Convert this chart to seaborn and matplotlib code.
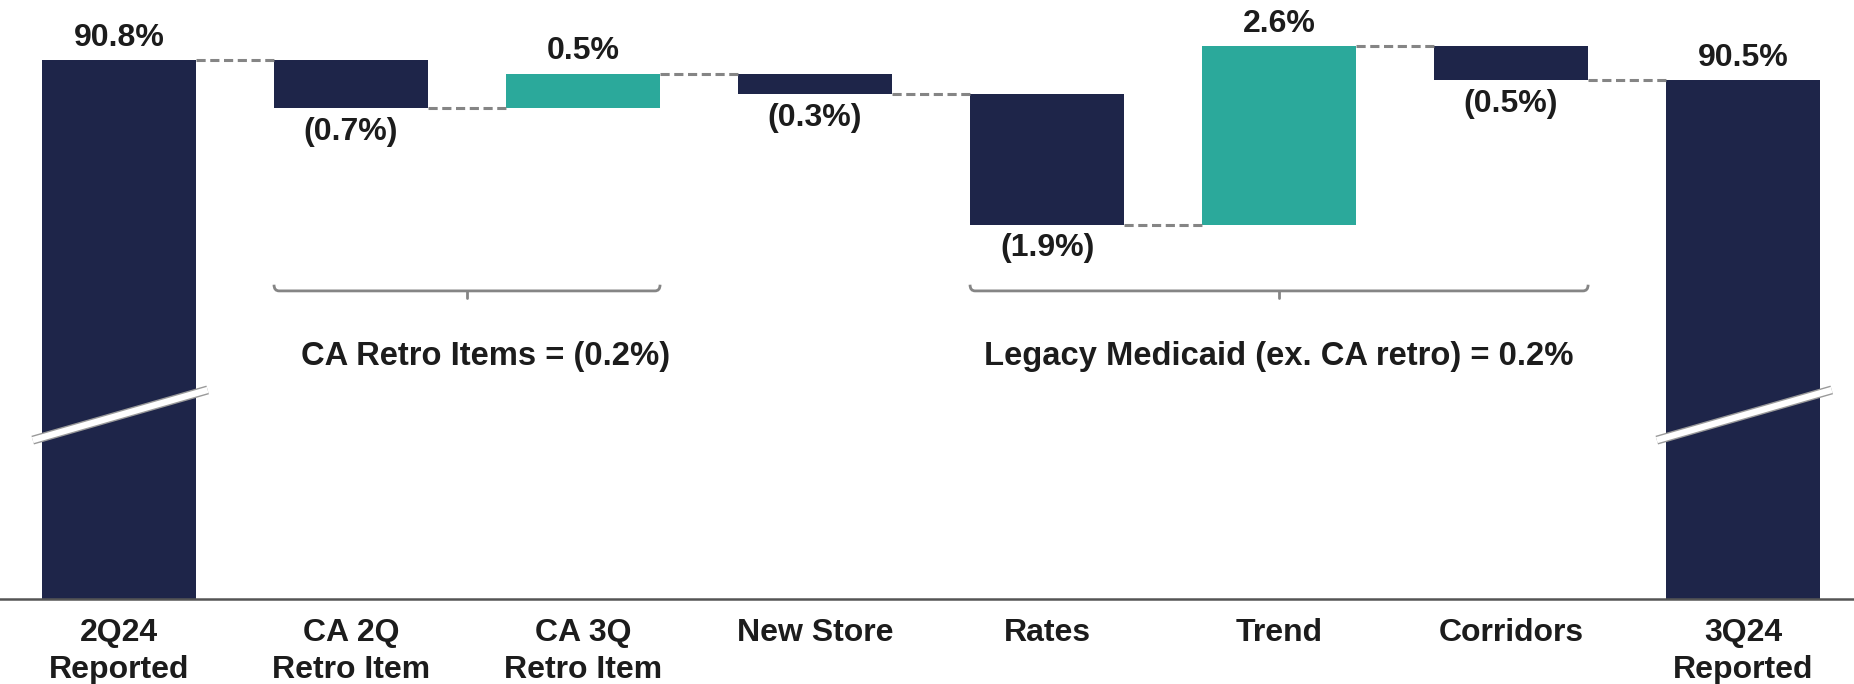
import numpy as np
import pandas as pd
import matplotlib
matplotlib.use("Agg")
import matplotlib.pyplot as plt
import seaborn as sns
from matplotlib.path import Path
from matplotlib.patches import PathPatch

# ---------------- data ----------------
categories = ["2Q24\nReported", "CA 2Q\nRetro Item", "CA 3Q\nRetro Item", "New Store",
              "Rates", "Trend", "Corridors", "3Q24\nReported"]
start_value = 90.8
changes = [-0.7, 0.5, -0.3, -1.9, 2.6, -0.5]
end_value = 90.5
value_labels = ["90.8%", "(0.7%)", "0.5%", "(0.3%)", "(1.9%)", "2.6%", "(0.5%)", "90.5%"]
bracket_spans = [(1, 2), (4, 6)]
bracket_texts = ["CA Retro Items = (0.2%)", "Legacy Medicaid (ex. CA retro) = 0.2%"]

# ---------------- styling ----------------
NAVY = "#1E2549"
TEAL = "#2BA99B"
GRAY = "#858585"
TEXT = "#1c1c1c"
BAR_W = 0.664

sns.set_theme(style="white")
plt.rcParams["font.family"] = ["Liberation Sans", "DejaVu Sans"]
plt.rcParams["font.weight"] = "bold"

# waterfall geometry
levels = [start_value]
for c in changes:
    levels.append(round(levels[-1] + c, 3))
tops = [start_value] + [max(levels[i], levels[i + 1]) for i in range(len(changes))] + [end_value]
bottoms = [0.0] + [min(levels[i], levels[i + 1]) for i in range(len(changes))] + [0.0]
heights = [t - b for t, b in zip(tops, bottoms)]
signs = [1] + [1 if c > 0 else -1 for c in changes] + [1]
is_total = [True] + [False] * len(changes) + [True]

df = pd.DataFrame({"category": categories, "height": heights})

fig = plt.figure(figsize=(18.54, 6.84), dpi=100)
ax = fig.add_axes([0, 85 / 684, 1, 599 / 684])

sns.barplot(data=df, x="category", y="height", bottom=np.array(bottoms), color=NAVY,
            saturation=1, width=BAR_W, errorbar=None, ax=ax, linewidth=0)

for patch, s, tot in zip(ax.patches, signs, is_total):
    patch.set_facecolor(NAVY if (tot or s < 0) else TEAL)
    patch.set_edgecolor("none")

ymin, ymax = 82.96, 91.67
ax.set_ylim(ymin, ymax)
ax.set_xlim(-0.513, 7.478)

# connectors
for i in range(len(levels)):
    ax.plot([i + BAR_W / 2, i + 1 - BAR_W / 2], [levels[i], levels[i]],
            color=GRAY, lw=2.2, dashes=(3, 1.5), zorder=1)

# value labels
for i, lab in enumerate(value_labels):
    if signs[i] > 0:
        ax.annotate(lab, (i, tops[i]), xytext=(0, 16), textcoords="offset points",
                    ha="center", va="center", fontsize=23, fontweight="bold", color=TEXT)
    else:
        ax.annotate(lab, (i, bottoms[i]), xytext=(0, -17), textcoords="offset points",
                    ha="center", va="center", fontsize=23, fontweight="bold", color=TEXT)

# axis break marks on total bars
for i in (0, len(categories) - 1):
    xs = [i - BAR_W / 2 - 0.04, i + BAR_W / 2 + 0.05]
    ys = [85.27, 86.0]
    ax.plot(xs, ys, color="#9a9a9a", lw=6.5, solid_capstyle="butt", zorder=5)
    ax.plot(xs, ys, color="white", lw=4.5, solid_capstyle="butt", zorder=6)

# brackets
by, hook, tick, dx = 87.44, 0.09, 0.11, 0.022
for (a, b), txt in zip(bracket_spans, bracket_texts):
    xl, xr = a - BAR_W / 2, b + BAR_W / 2
    xc = (xl + xr) / 2
    verts = [(xl, by + hook), (xl, by), (xl + dx, by), (xr - dx, by), (xr, by), (xr, by + hook)]
    codes = [Path.MOVETO, Path.CURVE3, Path.CURVE3, Path.LINETO, Path.CURVE3, Path.CURVE3]
    ax.add_patch(PathPatch(Path(verts, codes), fill=False, edgecolor=GRAY, lw=2))
    ax.plot([xc, xc], [by, by - tick], color=GRAY, lw=2)
    ax.text(xc + (0.08 if a == 1 else 0.0), 86.48, txt, ha="center", va="center",
            fontsize=23.6, fontweight="bold", color=TEXT)

# axes styling
for side in ["left", "right", "top"]:
    ax.spines[side].set_visible(False)
ax.spines["bottom"].set_color("#555555")
ax.spines["bottom"].set_linewidth(1.8)
ax.set_yticks([])
ax.set_xlabel("")
ax.set_ylabel("")
ax.tick_params(axis="x", length=0, pad=14, labelsize=23, labelcolor=TEXT)
for t in ax.get_xticklabels():
    t.set_fontweight("bold")
    t.set_linespacing(1.3)
ax.set_facecolor("white")
fig.patch.set_facecolor("white")

fig.savefig("out.png", dpi=100, facecolor="white")
